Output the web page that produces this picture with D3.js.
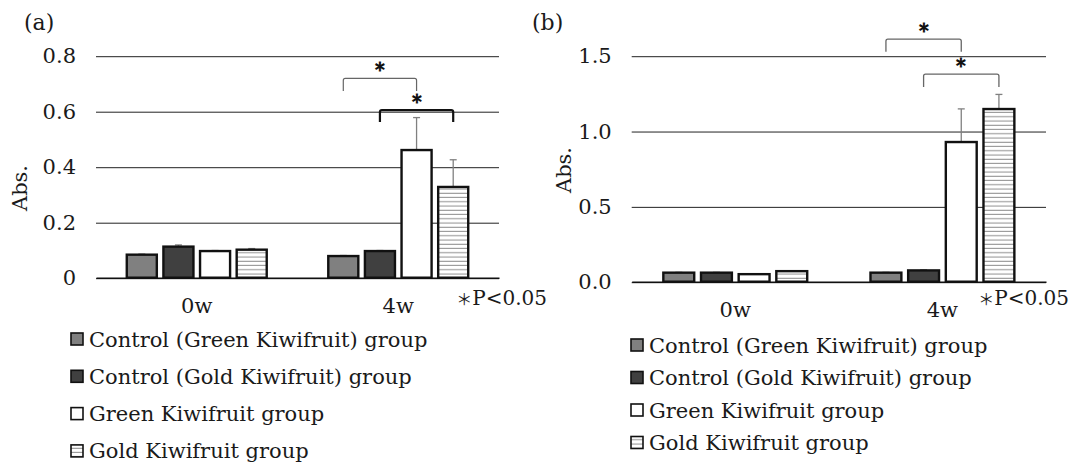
<!DOCTYPE html>
<html>
<head>
<meta charset="utf-8">
<script src="https://cdn.jsdelivr.net/npm/d3@7"></script>
<style>
  body { margin: 0; background: #fff; }
  text { font-family: 'DejaVu Serif', serif; fill: #1a1a1a; }
</style>
</head>
<body>
<svg width="1074" height="464"></svg>
<script>
// data
const weeks = ['0w', '4w']
const groups = [
  'Control (Green Kiwifruit) group',
  'Control (Gold Kiwifruit) group',
  'Green Kiwifruit group',
  'Gold Kiwifruit group'
]
const meansA = [[0.083, 0.112, 0.096, 0.101], [0.078, 0.096, 0.46, 0.327]]
const errorsA = [[0.002, 0.006, 0.002, 0.004], [0.002, 0.002, 0.117, 0.098]]
const meansB = [[0.06, 0.06, 0.05, 0.07], [0.06, 0.075, 0.927, 1.146]]
const errorsB = [[0.002, 0.002, 0.002, 0.002], [0.002, 0.004, 0.22, 0.097]]
const ticksA = [0, 0.2, 0.4, 0.6, 0.8]
const ticksB = [0, 0.5, 1.0, 1.5]
// significance brackets: [from group, to group, top, leg end] at 4w
const sigA = [[0, 2, 0.718, 0.673], [1, 3, 0.604, 0.561]]
const sigB = [[0, 2, 1.61, 1.526], [1, 3, 1.378, 1.292]]

const fills = ['#808080', '#404040', '#fff', 'url(#hatch)']
const fs = 21

const svg = d3.select('svg')

const defs = svg.append('defs')
const pat = defs.append('pattern')
  .attr('id', 'hatch')
  .attr('patternUnits', 'userSpaceOnUse')
  .attr('width', 8)
  .attr('height', 4.25)
pat.append('rect').attr('width', 8).attr('height', 4.25).attr('fill', '#fff')
pat.append('line')
  .attr('x1', 0).attr('x2', 8).attr('y1', 2).attr('y2', 2)
  .attr('stroke', '#8a8a8a').attr('stroke-width', 1)

const render = (p) => {
  const yScale = d3.scaleLinear()
    .domain([0, p.max])
    .range([p.bottom, p.top])

  const xScale = d3.scaleBand()
    .domain(weeks)
    .range([p.left, p.right])

  const inner = d3.scaleBand()
    .domain(d3.range(groups.length))
    .range([0, xScale.bandwidth()])
    .paddingInner(0.18)
    .paddingOuter(0.84)

  const g = svg.append('g')

  const yAxis = d3.axisLeft(yScale)
    .tickValues(p.ticks)
    .tickFormat(p.fmt)
    .tickSize(-(p.right - p.left))
    .tickPadding(20)

  const yAxisGroup = g.append('g')
    .attr('transform', `translate(${p.left},0.5)`)
    .call(yAxis)
  yAxisGroup.select('.domain').remove()
  yAxisGroup.selectAll('.tick line').attr('stroke', '#222').attr('stroke-width', 1)
  yAxisGroup.selectAll('.tick text')
    .attr('font-size', fs)
    .attr('font-family', 'DejaVu Serif')
    .attr('fill', '#1a1a1a')

  const xAxisGroup = g.append('g')
    .attr('transform', `translate(0,${p.bottom})`)
    .call(d3.axisBottom(xScale).tickSize(0).tickPadding(20))
  xAxisGroup.select('.domain').attr('stroke', '#111').attr('stroke-width', 1.4)
  xAxisGroup.selectAll('.tick text')
    .attr('font-size', fs)
    .attr('font-family', 'DejaVu Serif')
    .attr('fill', '#1a1a1a')

  // bars
  weeks.forEach((w, wi) => {
    const bars = g.append('g')
    groups.forEach((grp, gi) => {
      const x = xScale(w) + inner(gi)
      const m = p.means[wi][gi]
      const e = p.errors[wi][gi]
      const cx = x + inner.bandwidth() / 2
      bars.append('line')
        .attr('x1', cx).attr('x2', cx)
        .attr('y1', yScale(m)).attr('y2', yScale(m + e))
        .attr('stroke', '#808080').attr('stroke-width', 1.3)
      bars.append('line')
        .attr('x1', cx - 3.5).attr('x2', cx + 3.5)
        .attr('y1', yScale(m + e)).attr('y2', yScale(m + e))
        .attr('stroke', '#808080').attr('stroke-width', 1.3)
      bars.append('rect')
        .attr('x', x)
        .attr('y', yScale(m))
        .attr('width', inner.bandwidth())
        .attr('height', yScale(0) - yScale(m))
        .attr('fill', fills[gi])
        .attr('stroke', '#111')
        .attr('stroke-width', 2.4)
    })
  })

  // significance brackets
  p.sig.forEach((s, i) => {
    const x1 = xScale('4w') + inner(s[0]) + inner.bandwidth() / 2
    const x2 = xScale('4w') + inner(s[1]) + inner.bandwidth() / 2
    const yt = yScale(s[2])
    const yl = yScale(s[3])
    g.append('path')
      .attr('d', `M${x1},${yl} L${x1},${yt + 2} Q${x1},${yt} ${x1 + 2},${yt} L${x2 - 2},${yt} Q${x2},${yt} ${x2},${yt + 2} L${x2},${yl}`)
      .attr('fill', 'none')
      .attr('stroke', p.sigStroke[i])
      .attr('stroke-width', p.sigWidth[i])
    g.append('text')
      .attr('x', (x1 + x2) / 2)
      .attr('y', yt - 1)
      .attr('text-anchor', 'middle')
      .attr('font-family', 'Noto Sans CJK JP')
      .attr('font-size', 22)
      .attr('font-weight', 'bold')
      .style('fill', '#111')
      .text('＊')
  })

  g.append('text')
    .attr('x', p.label.x)
    .attr('y', p.label.y)
    .attr('font-size', 22)
    .text(p.name)

  g.append('text')
    .attr('transform', `translate(${p.abs.x},${p.abs.y}) rotate(-90)`)
    .attr('text-anchor', 'middle')
    .attr('font-size', fs)
    .text('Abs.')

  const pt = g.append('text')
    .attr('x', p.pval.x)
    .attr('y', p.pval.y)
    .attr('text-anchor', 'end')
    .attr('font-size', 20)
  pt.append('tspan').attr('font-family', 'Noto Sans CJK JP').attr('font-size', 16).text('＊')
  pt.append('tspan').text('P<0.05')

  // legend
  const lg = g.append('g')
  groups.forEach((grp, gi) => {
    const y = p.legend.y + gi * p.legend.step
    lg.append('rect')
      .attr('x', p.legend.x)
      .attr('y', y - 6)
      .attr('width', 12)
      .attr('height', 12)
      .attr('fill', fills[gi])
      .attr('stroke', '#111')
      .attr('stroke-width', 1.6)
    lg.append('text')
      .attr('x', p.legend.x + 18)
      .attr('y', y + 7.5)
      .attr('font-size', fs)
      .text(grp)
  })
}

render({
  name: '(a)', max: 0.8, ticks: ticksA, fmt: d => d === 0 ? '0' : d3.format('.1f')(d),
  means: meansA, errors: errorsA, sig: sigA,
  sigStroke: ['#666', '#111'], sigWidth: [1.2, 2.2],
  left: 96, right: 499, top: 55.7, bottom: 277.7,
  label: { x: 24, y: 30 }, abs: { x: 27, y: 188 }, pval: { x: 547, y: 305 },
  legend: { x: 71, y: 339, step: 37.3 }
})

render({
  name: '(b)', max: 1.5, ticks: ticksB, fmt: d3.format('.1f'),
  means: meansB, errors: errorsB, sig: sigB,
  sigStroke: ['#666', '#666'], sigWidth: [1.3, 1.3],
  left: 631.7, right: 1046, top: 55.7, bottom: 281.7,
  label: { x: 532, y: 30 }, abs: { x: 571, y: 170 }, pval: { x: 1069, y: 305 },
  legend: { x: 631, y: 345, step: 32.5 }
})
</script>
</body>
</html>
